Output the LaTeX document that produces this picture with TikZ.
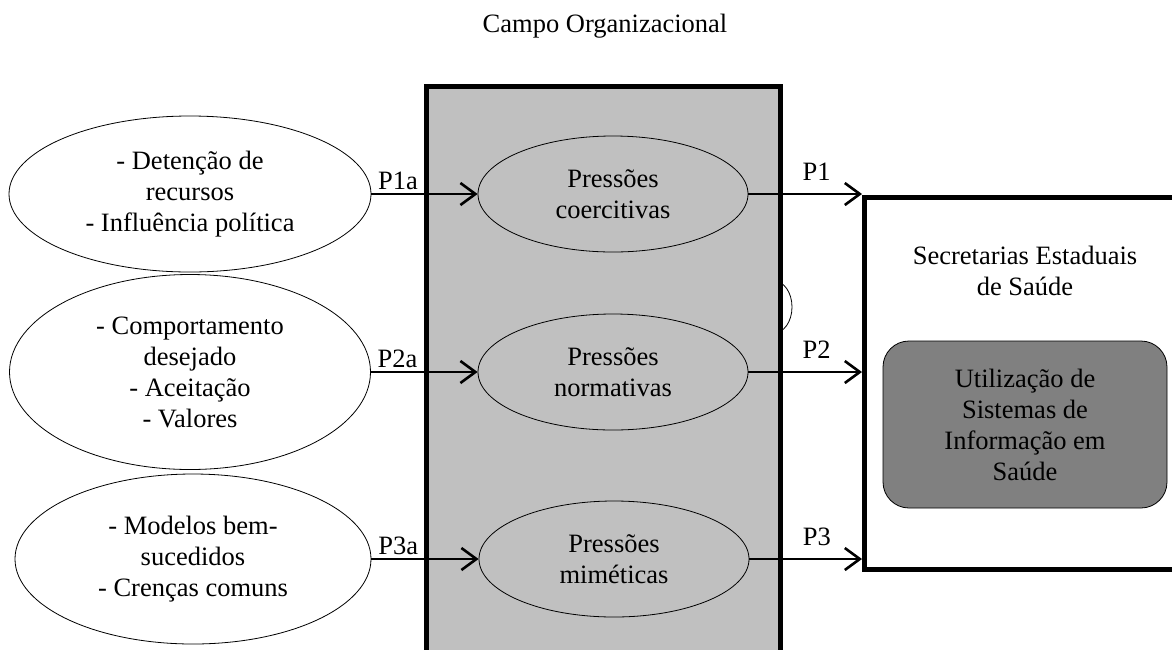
\documentclass[tikz,border=0pt]{standalone}
\usepackage{fontspec}
\setmainfont{Liberation Serif}
\usepackage{xcolor}
\usepackage{tikz}
\usetikzlibrary{shapes,arrows.meta}
\definecolor{fieldgray}{HTML}{C0C0C0}
\definecolor{sisgray}{HTML}{808080}

\begin{document}
\begin{tikzpicture}[x=1pt, y=-1pt,
  every node/.style={font=\fontsize{26.5}{31}\selectfont},
  source/.style={ellipse, draw, line width=0.8pt, inner sep=0, align=center},
  pressure/.style={ellipse, draw, line width=0.8pt, fill=fieldgray, inner sep=0, minimum width=270, minimum height=116, align=center},
  link/.style={line width=2.6pt, -{Straight Barb[length=15pt, width=22pt, line width=2.6pt]}}]
\useasboundingbox (0,0) rectangle (1172,649);
%title
\node (title) at (605,26) {Campo Organizacional};
\draw[line width=0.8pt] (774,307) ellipse [x radius=18, y radius=26];
\node[draw, line width=4.5pt, fill=fieldgray, anchor=north west, minimum width=354, minimum height=700] (field) at (424,84) {};
\node[draw, line width=4.5pt, anchor=north west, minimum width=340, minimum height=372] (ses) at (862,195) {};
%sources
\node[source, minimum width=362, minimum height=156] (e1) at (190,194) {- Detenção de\\recursos\\- Influência política};
\node[source, minimum width=361, minimum height=195] (e2) at (190,372) {- Comportamento\\desejado\\- Aceitação\\- Valores};
\node[source, minimum width=356, minimum height=170] (e3) at (193,559) {- Modelos bem-\\sucedidos\\- Crenças comuns};
%pressures
\node[pressure] (p1) at (613,194) {Pressões\\coercitivas};
\node[pressure] (p2) at (613,372) {Pressões\\normativas};
\node[pressure] (p3) at (614,559) {Pressões\\miméticas};
%secretarias
\node[align=center] (sestext) at (1025,271) {Secretarias Estaduais\\de Saúde};
\node[draw, line width=0.8pt, fill=sisgray, rounded corners=26pt, minimum width=284, minimum height=167, align=center] (sis) at (1025,424.5) {Utilização de\\Sistemas de\\Informação em\\Saúde};
\draw [link] (e1.east) -- (p1.west) node[pos=0.25, above] {P1a};
\draw [link] (e2.east) -- (p2.west) node[pos=0.25, above] {P2a};
\draw [link] (e3.east) -- (p3.west) node[pos=0.25, above] {P3a};
\draw [link] (p1.east) -- (p1.east -| ses.west) node[pos=0.6, above=9pt] {P1};
\draw [link] (p2.east) -- (p2.east -| ses.west) node[pos=0.6, above=9pt] {P2};
\draw [link] (p3.east) -- (p3.east -| ses.west) node[pos=0.6, above=9pt] {P3};
\end{tikzpicture}
\end{document}
